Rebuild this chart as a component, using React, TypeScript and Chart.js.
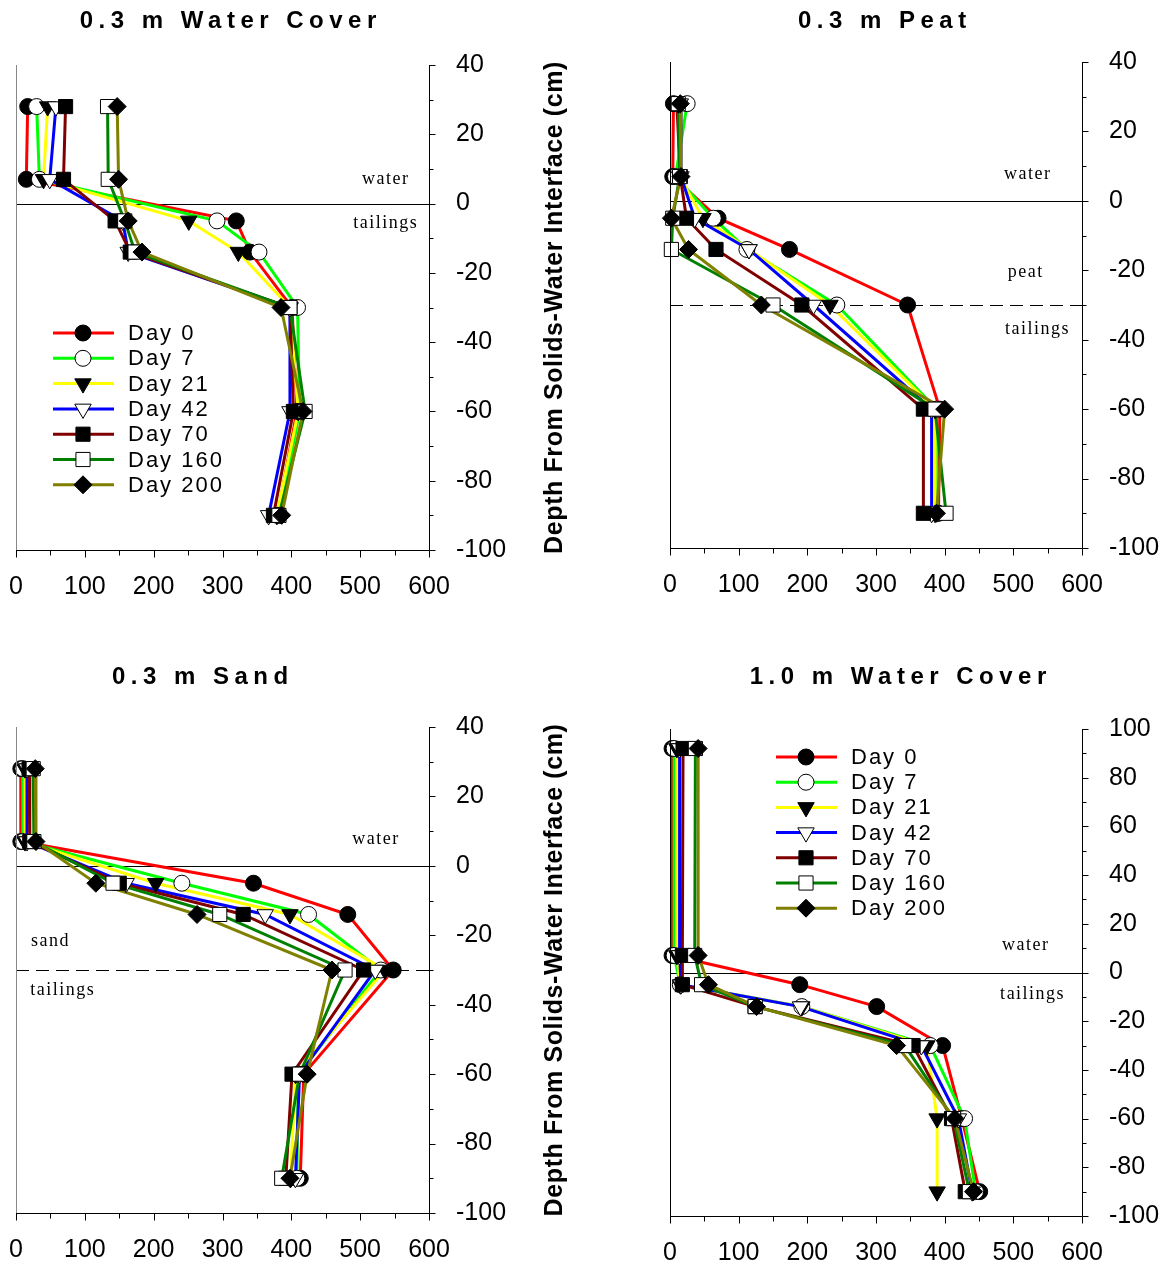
import { useEffect, useRef } from 'react';
import { Chart, registerables } from 'chart.js';

Chart.register(...registerables);

// ---------- series definitions ----------
const SERIES_NAMES = ['Day 0', 'Day 7', 'Day 21', 'Day 42', 'Day 70', 'Day 160', 'Day 200'];
const SERIES_COLORS = ['#FF0000', '#00FF00', '#FFFF00', '#0000FF', '#800000', '#008000', '#808000'];
const MARKER_STYLES = ['circle', 'circle', 'triangle', 'triangle', 'rect', 'rect', 'rectRot'];
const MARKER_FILLED = [true, false, true, false, true, false, true];

// ---------- tick labels ----------
const X_TICKS = [0, 100, 200, 300, 400, 500, 600];
const Y_TICKS_SHALLOW = [40, 20, 0, -20, -40, -60, -80, -100];
const Y_TICKS_DEEP = [100, 80, 60, 40, 20, 0, -20, -40, -60, -80, -100];

// ---------- 0.3 m Water Cover ----------
const W03_DEPTHS = [28, 7, -5, -14, -30, -60, -90];
const W03_DAY0 = [17, 15, 320, 340, 401, 408, 380];
const W03_DAY7 = [30, 34, 292, 353, 409, 412, 383];
const W03_DAY21 = [46, 40, 251, 323, 398, 410, 379];
const W03_DAY42 = [58, 49, 155, 163, 398, 398, 367];
const W03_DAY70 = [72, 69, 144, 166, 398, 403, 374];
const W03_DAY160 = [133, 134, 158, 173, 398, 420, 382];
const W03_DAY200 = [147, 149, 163, 183, 385, 417, 386];

// ---------- 0.3 m Peat ----------
const PEAT_DEPTHS = [28, 7, -5, -14, -30, -60, -90];
const PEAT_DAY0 = [5, 4, 70, 174, 346, 393, 391];
const PEAT_DAY7 = [25, 8, 63, 112, 243, 388, 389];
const PEAT_DAY21 = [12, 14, 48, 115, 233, 386, 386];
const PEAT_DAY42 = [15, 16, 36, 115, 209, 381, 381];
const PEAT_DAY70 = [10, 15, 24, 67, 192, 369, 369];
const PEAT_DAY160 = [12, 14, 4, 2, 150, 386, 402];
const PEAT_DAY200 = [15, 16, 2, 27, 133, 400, 388];

// ---------- 0.3 m Sand ----------
const SAND_DEPTHS = [28, 7, -5, -14, -30, -60, -90];
const SAND_DAY0 = [7, 7, 345, 482, 548, 418, 413];
const SAND_DAY7 = [10, 10, 241, 425, 530, 410, 408];
const SAND_DAY21 = [13, 13, 203, 398, 536, 406, 399];
const SAND_DAY42 = [16, 16, 160, 362, 522, 412, 406];
const SAND_DAY70 = [19, 20, 150, 330, 505, 401, 392];
const SAND_DAY160 = [25, 26, 141, 296, 478, 412, 386];
const SAND_DAY200 = [28, 29, 116, 263, 459, 423, 398];

// ---------- 1.0 m Water Cover ----------
const W10_DEPTHS = [92, 7, -5, -14, -30, -60, -90];
const W10_DAY0 = [3, 3, 189, 301, 397, 425, 451];
const W10_DAY7 = [6, 6, 15, 192, 379, 429, 445];
const W10_DAY21 = [10, 10, 15, 192, 374, 389, 389];
const W10_DAY42 = [14, 14, 16, 190, 366, 420, 440];
const W10_DAY70 = [19, 18, 18, 124, 354, 410, 430];
const W10_DAY160 = [37, 36, 46, 124, 342, 413, 436];
const W10_DAY200 = [41, 41, 56, 126, 330, 415, 442];

const SANS = "'Liberation Sans', Arial, Helvetica, sans-serif";
const SERIF = "'Liberation Serif', 'Times New Roman', serif";

type Annot = { text: string; x: number; y: number };
type PanelCfg = {
  title: string;
  canvas: { left: number; top: number; w: number; h: number };
  area: { l: number; t: number; r: number; b: number };
  titlePos: { x: number; y: number };
  yMin: number;
  yMax: number;
  yTicks: number[];
  depths: number[];
  series: number[][];
  annotations: Annot[];
  dashedAt: number | null;
  leftAxisColor: string;
  axisTitle: boolean;
  legend: { x0: number; x1: number; mx: number; tx: number; y0: number; dy: number } | null;
};

const PANELS: PanelCfg[] = [
  {
    title: '0.3 m Water Cover',
    canvas: { left: 0, top: 0, w: 583, h: 633 },
    area: { l: 16, t: 65, r: 429, b: 550 },
    titlePos: { x: 228, y: 21 },
    yMin: -100, yMax: 40, yTicks: Y_TICKS_SHALLOW,
    depths: W03_DEPTHS,
    series: [W03_DAY0, W03_DAY7, W03_DAY21, W03_DAY42, W03_DAY70, W03_DAY160, W03_DAY200],
    annotations: [{ text: 'water', x: 536, y: 7 }, { text: 'tailings', x: 536, y: -5.6 }],
    dashedAt: null,
    leftAxisColor: '#888888',
    axisTitle: true,
    legend: { x0: 53, x1: 114, mx: 83, tx: 128, y0: 333, dy: 25.3 },
  },
  {
    title: '0.3 m Peat',
    canvas: { left: 583, top: 0, w: 584, h: 633 },
    area: { l: 670, t: 62, r: 1082, b: 548 },
    titlePos: { x: 882, y: 21 },
    yMin: -100, yMax: 40, yTicks: Y_TICKS_SHALLOW,
    depths: PEAT_DEPTHS,
    series: [PEAT_DAY0, PEAT_DAY7, PEAT_DAY21, PEAT_DAY42, PEAT_DAY70, PEAT_DAY160, PEAT_DAY200],
    annotations: [
      { text: 'water', x: 520, y: 7.8 },
      { text: 'peat', x: 517, y: -20.7 },
      { text: 'tailings', x: 534, y: -37 },
    ],
    dashedAt: -30,
    leftAxisColor: '#000000',
    axisTitle: false,
    legend: null,
  },
  {
    title: '0.3 m Sand',
    canvas: { left: 0, top: 633, w: 583, h: 633 },
    area: { l: 16, t: 727, r: 429, b: 1213 },
    titlePos: { x: 200, y: 677 },
    yMin: -100, yMax: 40, yTicks: Y_TICKS_SHALLOW,
    depths: SAND_DEPTHS,
    series: [SAND_DAY0, SAND_DAY7, SAND_DAY21, SAND_DAY42, SAND_DAY70, SAND_DAY160, SAND_DAY200],
    annotations: [
      { text: 'water', x: 522, y: 7.8 },
      { text: 'sand', x: 49, y: -21.8 },
      { text: 'tailings', x: 67, y: -35.9 },
    ],
    dashedAt: -30,
    leftAxisColor: '#888888',
    axisTitle: true,
    legend: null,
  },
  {
    title: '1.0 m Water Cover',
    canvas: { left: 583, top: 633, w: 584, h: 633 },
    area: { l: 670, t: 729, r: 1082, b: 1216 },
    titlePos: { x: 898, y: 677 },
    yMin: -100, yMax: 100, yTicks: Y_TICKS_DEEP,
    depths: W10_DEPTHS,
    series: [W10_DAY0, W10_DAY7, W10_DAY21, W10_DAY42, W10_DAY70, W10_DAY160, W10_DAY200],
    annotations: [{ text: 'water', x: 517, y: 11 }, { text: 'tailings', x: 527, y: -8.8 }],
    dashedAt: null,
    leftAxisColor: '#000000',
    axisTitle: false,
    legend: { x0: 776, x1: 837, mx: 806, tx: 851, y0: 757, dy: 25.2 },
  },
];

const MARKER_RADIUS: Record<string, number> = { circle: 8, triangle: 9.5, rect: 10, rectRot: 9 };

function drawMarker(ctx: CanvasRenderingContext2D, style: string, filled: boolean, x: number, y: number) {
  const r = MARKER_RADIUS[style];
  ctx.beginPath();
  if (style === 'circle') {
    ctx.arc(x, y, r, 0, Math.PI * 2);
  } else if (style === 'triangle') {
    const s = Math.sin(Math.PI / 3) * r;
    ctx.moveTo(x, y + r);
    ctx.lineTo(x - s, y - r / 2);
    ctx.lineTo(x + s, y - r / 2);
    ctx.closePath();
  } else if (style === 'rect') {
    const h = r * Math.SQRT1_2;
    ctx.rect(x - h, y - h, 2 * h, 2 * h);
  } else {
    ctx.moveTo(x - r, y);
    ctx.lineTo(x, y - r);
    ctx.lineTo(x + r, y);
    ctx.lineTo(x, y + r);
    ctx.closePath();
  }
  ctx.fillStyle = filled ? '#000000' : '#FFFFFF';
  ctx.fill();
  ctx.lineWidth = 1;
  ctx.strokeStyle = '#000000';
  ctx.stroke();
}

function makePlugin(cfg: PanelCfg) {
  const ox = cfg.canvas.left;
  const oy = cfg.canvas.top;
  return {
    id: 'panelDecor',
    beforeDatasetsDraw(chart: any) {
      const { ctx, chartArea } = chart;
      const ys = chart.scales.y;
      ctx.save();
      ctx.strokeStyle = '#000000';
      ctx.lineWidth = 1;
      const y0 = Math.round(ys.getPixelForValue(0)) + 0.5;
      ctx.beginPath();
      ctx.moveTo(chartArea.left, y0);
      ctx.lineTo(chartArea.right, y0);
      ctx.stroke();
      if (cfg.dashedAt !== null) {
        const yd = Math.round(ys.getPixelForValue(cfg.dashedAt)) + 0.5;
        ctx.setLineDash([13, 7]);
        ctx.beginPath();
        ctx.moveTo(chartArea.left, yd);
        ctx.lineTo(chartArea.right, yd);
        ctx.stroke();
        ctx.setLineDash([]);
      }
      ctx.restore();
    },
    afterDraw(chart: any) {
      const { ctx, chartArea } = chart;
      const xs = chart.scales.x;
      const ys = chart.scales.y;
      ctx.save();
      // axes
      ctx.lineWidth = 1;
      ctx.strokeStyle = cfg.leftAxisColor;
      ctx.beginPath();
      ctx.moveTo(Math.round(chartArea.left) + 0.5, chartArea.top);
      ctx.lineTo(Math.round(chartArea.left) + 0.5, chartArea.bottom);
      ctx.stroke();
      ctx.strokeStyle = '#000000';
      const bx = Math.round(chartArea.bottom) + 0.5;
      const rx = Math.round(chartArea.right) + 0.5;
      ctx.beginPath();
      ctx.moveTo(chartArea.left, bx);
      ctx.lineTo(rx, bx);
      ctx.moveTo(rx, chartArea.top);
      ctx.lineTo(rx, chartArea.bottom);
      // x ticks every 50
      for (let v = 0; v <= 600; v += 50) {
        const px = Math.round(xs.getPixelForValue(v)) + 0.5;
        const len = v % 100 === 0 ? 7 : 5;
        ctx.moveTo(px, bx);
        ctx.lineTo(px, bx + len);
      }
      // y ticks every 10
      for (let v = cfg.yMin; v <= cfg.yMax; v += 10) {
        const py = Math.round(ys.getPixelForValue(v)) + 0.5;
        const len = v % 20 === 0 ? 6 : 4;
        ctx.moveTo(rx, py);
        ctx.lineTo(rx + len, py);
      }
      ctx.stroke();

      // title
      ctx.fillStyle = '#000000';
      ctx.font = `bold 24px ${SANS}`;
      (ctx as any).letterSpacing = '5.5px';
      ctx.textAlign = 'left';
      ctx.textBaseline = 'middle';
      const tw = ctx.measureText(cfg.title).width - 5.5;
      ctx.fillText(cfg.title, cfg.titlePos.x - ox - tw / 2, cfg.titlePos.y - oy);

      // annotations
      ctx.font = `18px ${SERIF}`;
      (ctx as any).letterSpacing = '1.5px';
      for (const a of cfg.annotations) {
        const w = ctx.measureText(a.text).width - 1.5;
        ctx.fillText(a.text, xs.getPixelForValue(a.x) - w / 2, ys.getPixelForValue(a.y));
      }

      // axis title
      if (cfg.axisTitle) {
        ctx.save();
        ctx.font = `bold 25px ${SANS}`;
        (ctx as any).letterSpacing = '0.6px';
        ctx.translate(555 - ox, (chartArea.top + chartArea.bottom) / 2);
        ctx.rotate(-Math.PI / 2);
        ctx.textAlign = 'center';
        ctx.fillText('Depth From Solids-Water Interface (cm)', 0, 0);
        ctx.restore();
      }

      // legend
      if (cfg.legend) {
        const L = cfg.legend;
        ctx.font = `22px ${SANS}`;
        (ctx as any).letterSpacing = '2px';
        ctx.textAlign = 'left';
        SERIES_NAMES.forEach((name, i) => {
          const y = L.y0 + i * L.dy - oy;
          ctx.strokeStyle = SERIES_COLORS[i];
          ctx.lineWidth = 3;
          ctx.beginPath();
          ctx.moveTo(L.x0 - ox, y);
          ctx.lineTo(L.x1 - ox, y);
          ctx.stroke();
          drawMarker(ctx, MARKER_STYLES[i], MARKER_FILLED[i], L.mx - ox, y);
          ctx.fillStyle = '#000000';
          ctx.fillText(name, L.tx - ox, y + 1);
        });
      }
      (ctx as any).letterSpacing = '0px';
      ctx.restore();
    },
  };
}

function Panel({ cfg }: { cfg: PanelCfg }) {
  const ref = useRef<HTMLCanvasElement | null>(null);
  useEffect(() => {
    if (!ref.current) return;
    const datasets: any[] = [];
    cfg.series.forEach((vals, i) => {
      const pts = vals.map((v, k) => ({ x: v, y: cfg.depths[k] }));
      datasets.push({
        label: SERIES_NAMES[i] + ' line',
        data: pts,
        borderColor: SERIES_COLORS[i],
        borderWidth: 3,
        pointRadius: 0,
        pointHoverRadius: 0,
        showLine: true,
        fill: false,
        clip: false,
        order: 20 - i,
      });
      datasets.push({
        label: SERIES_NAMES[i],
        data: pts,
        showLine: false,
        pointStyle: MARKER_STYLES[i],
        pointRadius: MARKER_RADIUS[MARKER_STYLES[i]],
        pointHoverRadius: MARKER_RADIUS[MARKER_STYLES[i]],
        pointRotation: MARKER_STYLES[i] === 'triangle' ? 180 : 0,
        pointBackgroundColor: MARKER_FILLED[i] ? '#000000' : '#FFFFFF',
        pointBorderColor: '#000000',
        pointBorderWidth: 1,
        borderColor: SERIES_COLORS[i],
        clip: false,
        order: 10 - i,
      });
    });
    const c = cfg.canvas;
    const a = cfg.area;
    const xH = c.top + c.h - a.b;
    const yW = c.left + c.w - a.r;
    const chart = new Chart(ref.current, {
      type: 'line',
      data: { datasets },
      options: {
        responsive: false,
        animation: false,
        devicePixelRatio: 1,
        events: [],
        layout: { padding: { left: a.l - c.left, top: a.t - c.top, right: 0, bottom: 0 } },
        plugins: { legend: { display: false }, tooltip: { enabled: false }, title: { display: false } },
        scales: {
          x: {
            type: 'linear',
            position: 'bottom',
            min: 0,
            max: 600,
            afterBuildTicks: (s: any) => { s.ticks = X_TICKS.map((v) => ({ value: v })); },
            afterFit: (s: any) => { s.height = xH; },
            grid: { display: true, drawOnChartArea: false, drawTicks: true, tickLength: 22, color: 'rgba(0,0,0,0)' },
            border: { display: false },
            ticks: {
              color: '#000000',
              font: { family: SANS, size: 25 },
              padding: 0,
              maxRotation: 0,
              autoSkip: false,
              callback: (v: any) => String(v),
            },
          },
          y: {
            type: 'linear',
            position: 'right',
            min: cfg.yMin,
            max: cfg.yMax,
            afterBuildTicks: (s: any) => { s.ticks = cfg.yTicks.map((v) => ({ value: v })); },
            afterFit: (s: any) => { s.width = yW; },
            grid: { display: true, drawOnChartArea: false, drawTicks: true, tickLength: 27, color: 'rgba(0,0,0,0)' },
            border: { display: false },
            ticks: {
              color: '#000000',
              font: { family: SANS, size: 25 },
              padding: 0,
              autoSkip: false,
              callback: (v: any) => String(v),
            },
          },
        },
      } as any,
      plugins: [makePlugin(cfg)],
    });
    return () => chart.destroy();
  }, [cfg]);
  return (
    <canvas
      ref={ref}
      width={cfg.canvas.w}
      height={cfg.canvas.h}
      style={{
        position: 'absolute',
        left: cfg.canvas.left,
        top: cfg.canvas.top,
        width: cfg.canvas.w,
        height: cfg.canvas.h,
        display: 'block',
      }}
    />
  );
}

export default function App() {
  return (
    <div style={{ position: 'absolute', left: 0, top: 0, width: 1167, height: 1266, background: '#FFFFFF', overflow: 'hidden' }}>
      {PANELS.map((p) => (
        <Panel key={p.title} cfg={p} />
      ))}
    </div>
  );
}
